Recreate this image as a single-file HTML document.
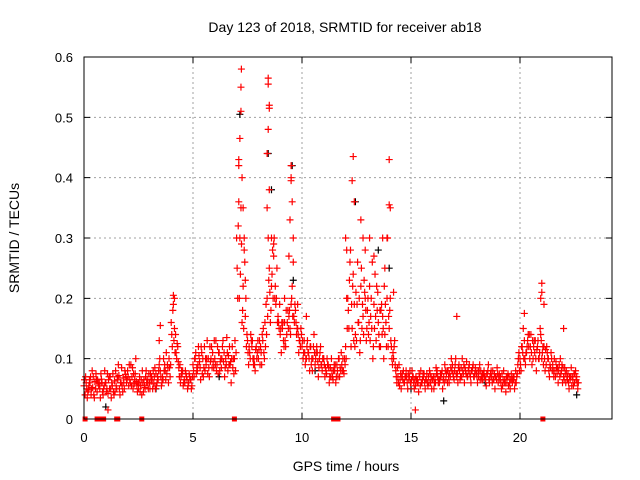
<!DOCTYPE html>
<html><head><meta charset="utf-8"><style>
html,body{margin:0;padding:0;background:#fff;}
svg{display:block;font-family:"Liberation Sans",sans-serif;}
</style></head><body>
<svg id="chart" width="640" height="480" viewBox="0 0 640 480" xmlns="http://www.w3.org/2000/svg">
<rect width="640" height="480" fill="#fff"/>
<text x="345" y="32" font-size="14" text-anchor="middle">Day 123 of 2018, SRMTID for receiver ab18</text>
<text transform="translate(19,238) rotate(-90)" font-size="14" text-anchor="middle">SRMTID / TECUs</text>
<text x="346" y="471" font-size="14" text-anchor="middle">GPS time / hours</text>
<g id="grid"></g>
<g id="marks"></g>
<g id="axes"></g>
</svg>
<script>
const xTicks=[0,5,10,15,20];
const yTicks=[0,0.1,0.2,0.3,0.4,0.5,0.6];
const yTickLabels=["0","0.1","0.2","0.3","0.4","0.5","0.6"];
const sampleStep=0.1;
const seriesA=[.055,.06,.048,.07,.052,.062,.045,.058,.066,.05,
.06,.042,.07,.055,.063,.05,.072,.06,.068,.074,
.08,.065,.07,.058,.062,.05,.056,.06,.052,.066,
.06,.07,.058,.075,.065,.08,.07,.09,.075,.1,
.16,.19,.14,.12,.09,.075,.065,.07,.06,.065,
.09,.1,.08,.095,.11,.085,.09,.1,.095,.11,
.1,.09,.11,.085,.095,.1,.08,.09,.12,.1,
.3,.42,.35,.22,.17,.13,.11,.12,.1,.12,
.1,.12,.13,.16,.2,.25,.22,.27,.19,.17,
.14,.15,.16,.14,.17,.19,.3,.18,.15,.13,
.12,.13,.1,.11,.12,.1,.09,.11,.1,.09,
.1,.08,.09,.085,.07,.08,.09,.1,.11,.08,
.12,.2,.26,.15,.19,.13,.16,.22,.17,.2,
.18,.22,.15,.19,.13,.16,.12,.17,.14,.2,
.15,.12,.1,.08,.07,.065,.075,.06,.07,.065,
.06,.07,.055,.065,.07,.06,.075,.065,.07,.06,
.065,.07,.08,.06,.075,.07,.065,.08,.07,.09,
.08,.07,.09,.085,.075,.08,.07,.075,.08,.07,
.075,.07,.08,.065,.07,.075,.06,.07,.065,.07,
.06,.07,.055,.065,.06,.07,.075,.065,.08,.09,
.1,.12,.13,.11,.12,.14,.1,.13,.12,.11,
.1,.12,.09,.1,.085,.09,.08,.075,.09,.08,
.07,.06,.075,.065,.07,.06,.07];
const seriesB=[.04,.035,.065,.05,.04,.075,.06,.035,.045,.08,
.05,.07,.035,.045,.08,.065,.04,.055,.05,.06,
.055,.09,.05,.075,.045,.07,.04,.065,.08,.05,
.075,.05,.085,.06,.09,.055,.1,.065,.085,.07,
.12,.15,.1,.085,.07,.055,.08,.05,.07,.055,
.07,.075,.12,.065,.1,.08,.13,.07,.12,.085,
.13,.075,.095,.12,.07,.135,.09,.06,.1,.08,
.2,.3,.16,.28,.12,.09,.14,.1,.08,.11,
.13,.09,.11,.19,.3,.16,.28,.2,.25,.15,
.11,.13,.12,.18,.15,.22,.16,.14,.11,.15,
.1,.09,.13,.08,.1,.14,.11,.07,.12,.1,
.07,.1,.06,.1,.08,.06,.07,.085,.08,.1,
.2,.15,.12,.24,.14,.26,.11,.15,.23,.13,
.14,.17,.1,.24,.18,.12,.19,.1,.16,.12,
.2,.09,.13,.06,.09,.05,.08,.07,.05,.08,
.08,.05,.065,.045,.08,.075,.05,.06,.08,.05,
.05,.085,.06,.075,.05,.09,.08,.06,.1,.07,
.1,.06,.065,.1,.06,.095,.085,.06,.09,.085,
.06,.09,.065,.08,.055,.09,.075,.08,.05,.085,
.075,.05,.08,.045,.075,.05,.06,.05,.07,.11,
.08,.15,.09,.13,.1,.09,.13,.08,.1,.14,
.12,.08,.11,.07,.1,.07,.095,.06,.1,.06,
.085,.07,.05,.085,.055,.08,.05];
const seriesC=[.065,.05,.055,.04,.07,.05,.065,.05,.06,.055,
.045,.065,.05,.075,.045,.07,.05,.085,.06,.07,
.07,.06,.085,.065,.055,.06,.065,.045,.07,.06,
.05,.065,.07,.055,.08,.07,.065,.08,.09,.085,
.14,.13,.11,.095,.06,.08,.06,.065,.075,.05,
.08,.11,.09,.085,.075,.12,.1,.085,.1,.095,
.09,.12,.08,.1,.11,.09,.105,.095,.085,.13,
.25,.2,.29,.15,.2,.11,.1,.13,.09,.1,
.115,.11,.15,.12,.17,.21,.24,.3,.2,.16,
.15,.16,.13,.16,.18,.2,.17,.16,.14,.12,
.13,.11,.12,.1,.09,.12,.1,.095,.11,.08,
.09,.075,.085,.07,.065,.09,.08,.07,.09,.075,
.1,.18,.28,.22,.12,.19,.2,.25,.14,.18,
.2,.13,.26,.15,.22,.14,.18,.15,.19,.3,
.18,.1,.12,.07,.06,.075,.065,.07,.06,.07,
.065,.06,.07,.06,.055,.065,.06,.075,.06,.07,
.07,.06,.07,.065,.08,.06,.075,.07,.085,.075,
.09,.075,.08,.07,.09,.075,.08,.07,.085,.075,
.07,.08,.07,.075,.065,.08,.07,.06,.075,.065,
.07,.06,.065,.06,.07,.06,.065,.07,.06,.1,
.09,.11,.1,.12,.14,.11,.12,.1,.13,.15,
.11,.1,.12,.08,.11,.08,.07,.085,.07,.09,
.065,.08,.06,.07,.065,.075,.06];
const seriesD=[.07,.045,.06,.08,.035,.065,.055,.075,.04,.06,
.075,.05,.06,.04,.055,.09,.06,.045,.08,.065,
.09,.055,.075,.1,.06,.045,.08,.055,.06,.075,
.065,.08,.05,.07,.1,.06,.08,.11,.06,.09,
.18,.11,.125,.07,.08,.06,.075,.055,.065,.07,
.1,.085,.105,.12,.07,.1,.075,.12,.085,.13,
.08,.11,.1,.13,.085,.11,.12,.1,.075,.11,
.32,.24,.18,.26,.14,.12,.13,.09,.115,.13,
.09,.14,.1,.14,.23,.18,.2,.22,.16,.19,
.16,.12,.18,.15,.14,.17,.19,.15,.13,.14,
.11,.1,.11,.12,.08,.11,.12,.085,.09,.1,
.085,.09,.07,.08,.09,.07,.1,.08,.1,.09,
.15,.23,.19,.13,.21,.16,.13,.19,.21,.15,
.16,.2,.12,.17,.21,.18,.14,.22,.12,.17,
.13,.11,.09,.085,.055,.07,.06,.08,.075,.06,
.07,.065,.06,.075,.06,.07,.065,.055,.075,.065,
.06,.075,.065,.07,.065,.08,.06,.075,.08,.065,
.075,.085,.07,.08,.085,.07,.09,.08,.07,.08,
.08,.065,.075,.07,.075,.065,.08,.065,.07,.075,
.065,.075,.06,.07,.055,.065,.07,.06,.075,.08,
.12,.1,.11,.14,.12,.13,.11,.115,.1,.13,
.09,.115,.1,.09,.08,.1,.085,.08,.075,.085,
.075,.065,.07,.055,.075,.065,.06];
const spikeTimes=[7.1,7.15,7.2,7.22,7.2,7.25,7.3,7.35,7.4,7.1,8.45,8.45,8.5,8.5,8.45,8.4,8.5,8.4,8.6,8.7,9.5,9.5,9.5,9.55,9.45,9.6,9.4,12.35,12.3,12.4,12.0,12.05,12.7,12.8,12.9,13.1,13.3,13.7,13.8,13.9,14.0,14.0,14.05,14.2,4.1,4.15,3.5,3.45,17.1,20.2,21.0,21.0,20.95,21.1,22.0,9.8,9.2,10.2,15.2,1.1];
const spikeValues=[.43,.465,.55,.58,.51,.4,.35,.3,.23,.36,.565,.555,.52,.515,.48,.44,.38,.35,.3,.29,.42,.4,.395,.36,.33,.26,.27,.435,.395,.36,.3,.28,.33,.3,.28,.3,.27,.3,.25,.3,.43,.355,.35,.21,.205,.2,.155,.13,.17,.175,.225,.21,.2,.19,.15,.19,.2,.17,.015,.015];
const blackTimes=[7.15,8.45,9.55,12.45,14.0,9.6,8.6,13.5,15.0,1.0,16.5,22.6,6.2,3.3,18.4,10.6];
const blackValues=[.505,.44,.42,.36,.25,.23,.38,.28,.05,.02,.03,.04,.07,.05,.06,.08];
const gapTimes=[0.05,0.6,0.7,0.8,0.9,1.5,1.55,2.65,6.9,11.45,11.55,11.65,21.05];

const NS="http://www.w3.org/2000/svg";
const X0=84,X1=612,Y0=419,Y1=57,XMAX=(X1-X0)/21.8,YMAX=0.6;
function xs(t){return X0+t/XMAX*(X1-X0);}
function ys(v){return Y0-v/YMAX*(Y0-Y1);}
function mk(tag,attrs,parent){const e=document.createElementNS(NS,tag);for(const k in attrs)e.setAttribute(k,attrs[k]);parent.appendChild(e);return e;}
const grid=document.getElementById('grid'),marks=document.getElementById('marks'),axes=document.getElementById('axes');
xTicks.forEach(function(t){
  if(t>0){const g=mk('line',{x1:xs(t),x2:xs(t),y1:Y0,y2:Y1,stroke:'#a0a0a0','stroke-dasharray':'2,3','stroke-width':1},grid);
  
  }
  const tk=mk('path',{d:'M'+xs(t)+' '+Y0+'v-6M'+xs(t)+' '+Y1+'v6',stroke:'#000','stroke-width':1},axes);
  
  
  const lb=mk('text',{x:xs(t),y:Y0+23,'font-size':13,'text-anchor':'middle'},axes);lb.textContent=String(t);
  
  
});
yTicks.forEach(function(v,i){
  if(v>0&&v<YMAX){const g=mk('line',{x1:X0,x2:X1,y1:ys(v),y2:ys(v),stroke:'#a0a0a0','stroke-dasharray':'2,3','stroke-width':1},grid);
  
  }
  const tk=mk('path',{d:'M'+X0+' '+ys(v)+'h6M'+X1+' '+ys(v)+'h-6',stroke:'#000','stroke-width':1},axes);
  
  
  const lb=mk('text',{x:X0-11,y:ys(v)+5,'font-size':13,'text-anchor':'end'},axes);lb.textContent=yTickLabels[i];
  
  
});
const frame=mk('rect',{x:X0,y:Y1,width:X1-X0,height:Y0-Y1,fill:'none',stroke:'#000','stroke-width':1},axes);


function plus(t,v,col){
  const x=xs(t),y=ys(v);
  const p=mk('path',{d:'M'+(x-3.5)+' '+y+'h7M'+x+' '+(y-3.5)+'v7',stroke:col,'stroke-width':1.2},marks);
  
  
}
blackTimes.forEach(function(t,i){plus(t,blackValues[i],'#000');});
[[seriesA,0],[seriesB,0.05],[seriesC,0.025],[seriesD,0.075]].forEach(function(s){
  s[0].forEach(function(v,i){plus(i*sampleStep+s[1],v,'#f00');});
});
spikeTimes.forEach(function(t,i){plus(t,spikeValues[i],'#f00');});
gapTimes.forEach(function(t){
  const r=mk('rect',{x:xs(t)-2.5,y:Y0-2.5,width:5,height:5,fill:'#f00'},marks);
  
  
});
</script>
</body></html>
